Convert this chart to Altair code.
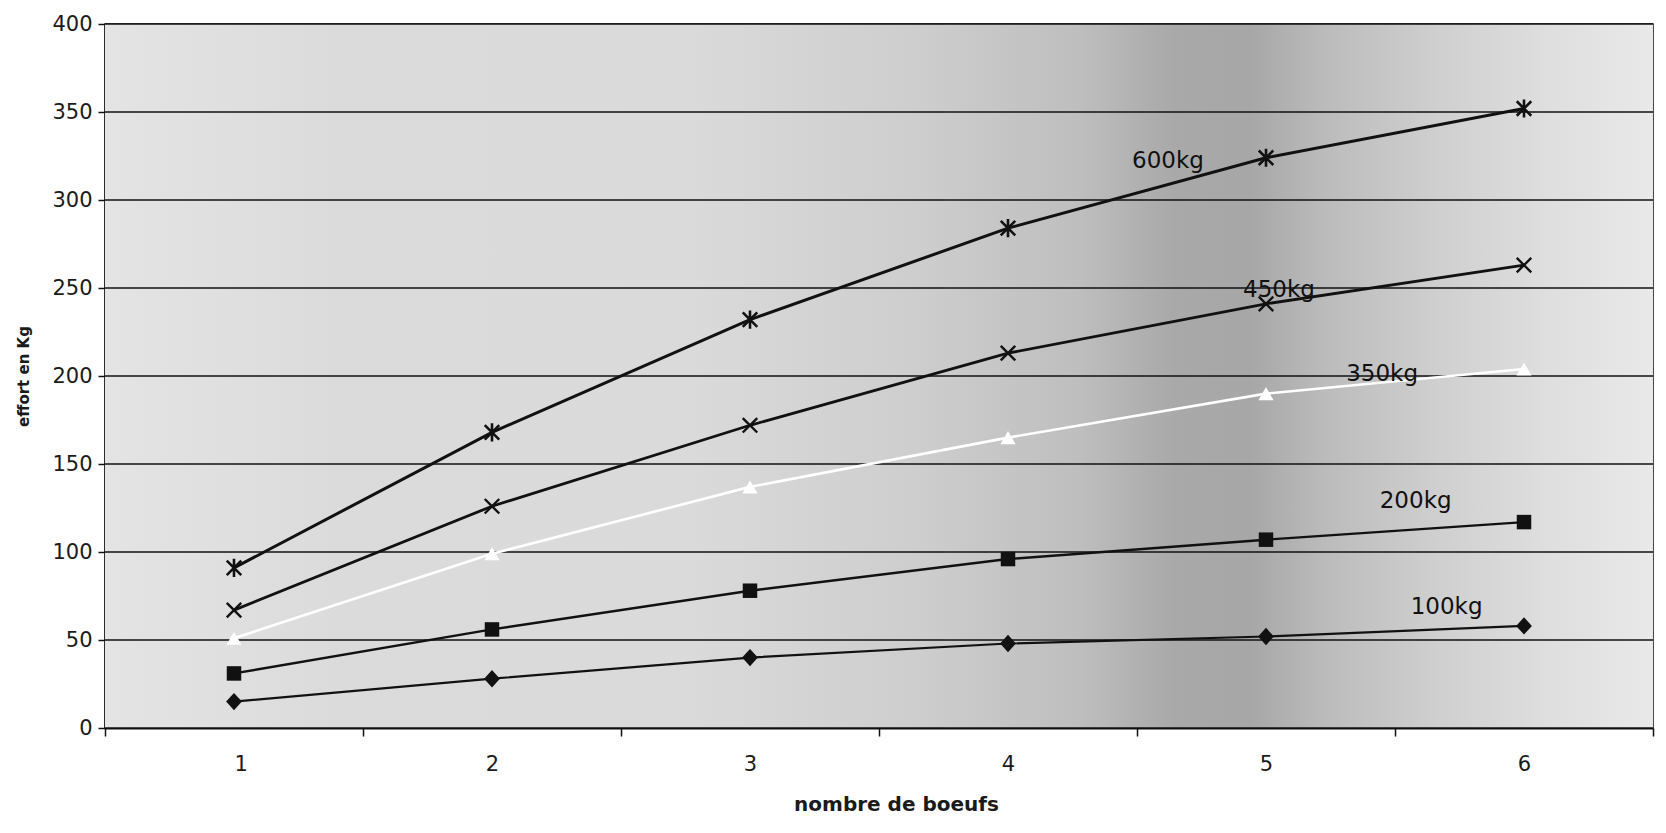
import altair as alt
import pandas as pd

# ---- data ----
boeufs = [1, 2, 3, 4, 5, 6]
series_names = ["600kg", "450kg", "350kg", "200kg", "100kg"]
effort_600 = [91, 168, 232, 284, 324, 352]
effort_450 = [67, 126, 172, 213, 241, 263]
effort_350 = [51, 99, 137, 165, 190, 204]
effort_200 = [31, 56, 78, 96, 107, 117]
effort_100 = [15, 28, 40, 48, 52, 58]
label_boeufs = [4.62, 5.05, 5.45, 5.58, 5.70]
label_effort = [322, 249, 201, 129, 69]
y_tick_values = [0, 50, 100, 150, 200, 250, 300, 350, 400]
x_tick_values = [0.5, 1.5, 2.5, 3.5, 4.5, 5.5, 6.5]

W, H = 1548, 704

values = [effort_600, effort_450, effort_350, effort_200, effort_100]
rows = []
for name, vals in zip(series_names, values):
    for b, v in zip(boeufs, vals):
        rows.append({"serie": name, "boeufs": b, "effort": v})
df = pd.DataFrame(rows)
labels = pd.DataFrame({"serie": series_names, "boeufs": label_boeufs, "effort": label_effort})
grid_df = pd.DataFrame({"effort": y_tick_values})

x_enc = alt.X("boeufs:Q", scale=alt.Scale(domain=[0.5, 6.5], nice=False, zero=False),
              axis=alt.Axis(values=x_tick_values, tickSize=8, tickWidth=1.5, tickColor="#111",
                            labelExpr="datum.value < 6 ? format(datum.value + 0.5, 'd') : ''",
                            labelOffset=W / 12, labelPadding=17, labelFontSize=21,
                            labelFont="DejaVu Sans", labelColor="#1a1a1a", grid=False,
                            domainColor="#111", domainWidth=2,
                            titleFont="DejaVu Sans", titleFontSize=20,
                            titleFontWeight="bold", titleColor="#1a1a1a", titleX=791, titleY=76,
                            titleAlign="center", titleBaseline="middle"),
              title="nombre de boeufs")
y_enc = alt.Y("effort:Q", scale=alt.Scale(domain=[0, 400], nice=False),
              axis=alt.Axis(values=y_tick_values, grid=False, tickSize=7, tickWidth=1.5,
                            tickColor="#111", labelPadding=6, labelFontSize=21,
                            labelFont="DejaVu Sans", labelColor="#1a1a1a", domainColor="#111",
                            domainWidth=2, titleFont="DejaVu Sans", titleFontSize=15,
                            titleFontWeight="bold", titleColor="#1a1a1a", titleX=-82, titleY=H / 2,
                            titleAngle=270, titleAlign="center", titleBaseline="middle"),
              title="effort en Kg")

bg = alt.Gradient(
    gradient="linear", x1=0, x2=1, y1=0, y2=0,
    stops=[
        alt.GradientStop(offset=0.0, color="#e4e4e4"),
        alt.GradientStop(offset=0.15, color="#dbdbdb"),
        alt.GradientStop(offset=0.38, color="#dadada"),
        alt.GradientStop(offset=0.53, color="#cdcdcd"),
        alt.GradientStop(offset=0.63, color="#bebebe"),
        alt.GradientStop(offset=0.69, color="#a9a9a9"),
        alt.GradientStop(offset=0.74, color="#a7a7a7"),
        alt.GradientStop(offset=0.79, color="#bcbcbc"),
        alt.GradientStop(offset=0.86, color="#cfcfcf"),
        alt.GradientStop(offset=0.93, color="#dedede"),
        alt.GradientStop(offset=1.0, color="#e9e9e9"),
    ],
)

background = alt.Chart(pd.DataFrame({"k": [0]})).mark_rect(color=bg).encode(
    x=alt.value(0), x2=alt.value(W), y=alt.value(0), y2=alt.value(H))

gridlines = alt.Chart(grid_df).mark_rule(color="#111", strokeWidth=1.6).encode(y=y_enc)

color_scale = alt.Scale(domain=series_names, range=["#111", "#111", "#ffffff", "#111", "#111"])
width_scale = alt.Scale(domain=series_names, range=[3, 2.2, 2.5, 2.6, 3])

base = alt.Chart(df)

lines = base.mark_line().encode(
    x=x_enc, y="effort:Q",
    color=alt.Color("serie:N", scale=color_scale, legend=None),
    strokeWidth=alt.StrokeWidth("serie:N", scale=width_scale, legend=None),
    detail="serie:N",
)

asterisk = "M-1,-1L1,1M-1,1L1,-1M0,-1.25L0,1.25"
xcross = "M-1,-1L1,1M-1,1L1,-1"
diamond = "M0,-1.1L1,0L0,1.1L-1,0Z"


def series_points(name, shape, size, color, filled, stroke_width=0):
    layer = base.transform_filter(alt.datum.serie == name)
    if filled:
        mark = layer.mark_point(filled=True, opacity=1, shape=shape, size=size, color=color)
    else:
        mark = layer.mark_point(filled=False, opacity=1, shape=shape, size=size, color=color,
                                strokeWidth=stroke_width)
    return mark.encode(x="boeufs:Q", y="effort:Q")


p600 = series_points("600kg", asterisk, 210, "#111", False, 2.6)
p450 = series_points("450kg", xcross, 210, "#111", False, 2.4)
p350 = series_points("350kg", "triangle-up", 230, "#ffffff", True)
p200 = series_points("200kg", "square", 210, "#111", True)
p100 = series_points("100kg", diamond, 250, "#111", True)

text = alt.Chart(labels).mark_text(font="DejaVu Sans", fontSize=23, color="#111",
                                   align="center", baseline="middle").encode(
    x="boeufs:Q", y="effort:Q", text="serie:N")

chart = alt.layer(background, gridlines, lines, p600, p450, p350, p200, p100, text).properties(
    width=W, height=H,
    autosize=alt.AutoSizeParams(type="none"),
    padding={"left": 97, "top": 16, "right": 4, "bottom": 92},
    background="#ffffff",
).configure_view(stroke="#111", strokeWidth=1.5)

chart.save("out.html", embed_options={"renderer": "svg", "actions": False})
